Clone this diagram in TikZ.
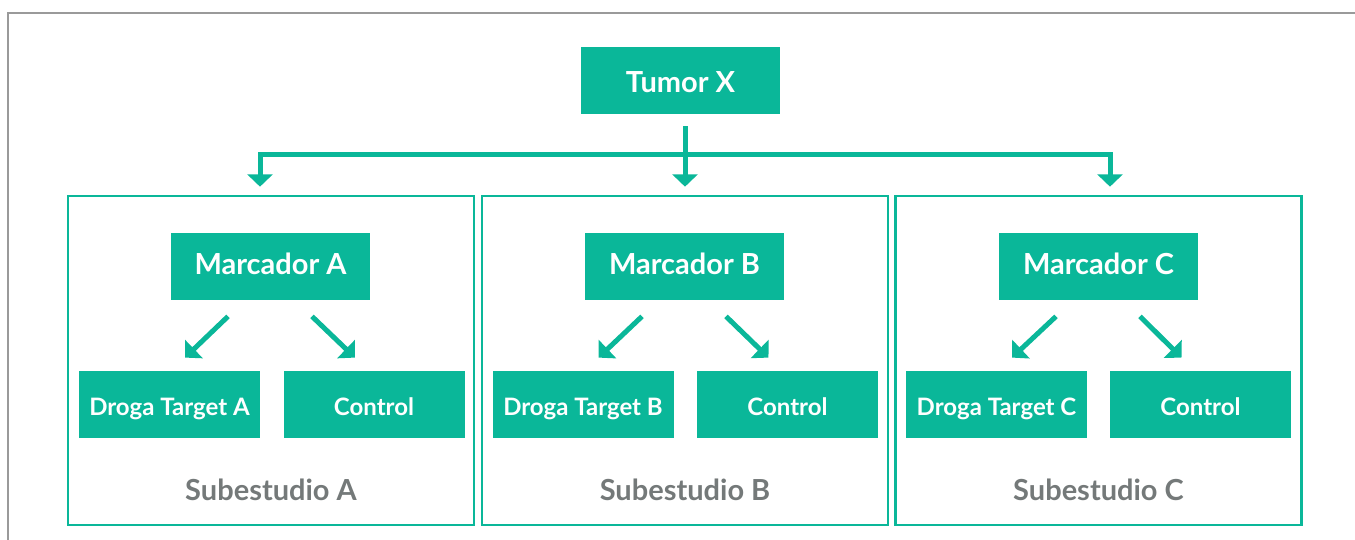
\documentclass[tikz,border=0pt]{standalone}
\usepackage{fontspec}
\setmainfont{Lato}
\usetikzlibrary{arrows.meta,calc}
\definecolor{verde}{HTML}{0AB799}
\definecolor{grisTexto}{HTML}{747979}
\definecolor{grisMarco}{HTML}{9A9A9A}

\begin{document}
\begin{tikzpicture}[x=0.5pt, y=-0.5pt,
		caja/.style={fill=verde, text=white, inner sep=0pt, minimum height=33.5pt, text depth=0pt},
		grande/.style={caja, minimum width=99.5pt, text height=7.8pt, font=\bfseries\fontsize{14.5}{16}\selectfont},
		chica/.style={caja, minimum width=90.5pt, text height=11.2pt, font=\bfseries\fontsize{12}{14}\selectfont},
		subestudio/.style={draw=verde, line width=1.3pt, minimum width=203pt, minimum height=164.5pt, inner sep=0pt},
		etiqueta/.style={text=grisTexto, font=\bfseries\fontsize{14.5}{16}\selectfont},
		linea/.style={draw=verde, line width=2.5pt, line join=miter},
		flecha/.style={linea, -{Triangle[width=12.5pt, length=6.2pt]}}]
	\useasboundingbox (0,0) rectangle (1355,540);

	% Frame
	\draw[grisMarco, line width=0.8pt] (1355,13) -- (8,13) -- (8,540);

	% Top node
	\node[grande, text height=11.6pt] (tumor) at (680.5,80.5) {Tumor X};

	% Substudy boxes
	\node[subestudio] (subA) at (271,360.5) {};
	\node[subestudio] (subB) at (685,360.5) {};
	\node[subestudio] (subC) at (1098.5,360.5) {};

	% Substudy A
	\node[grande] (marcA) at (270.5,266.5) {Marcador A};
	\node[chica] (drogaA) at (169.5,404.5) {Droga Target A};
	\node[chica] (controlA) at (374,404.5) {Control};
	\node[etiqueta] (etqA) at (271,490) {Subestudio A};

	% Substudy B
	\node[grande] (marcB) at (684.5,266.5) {Marcador B};
	\node[chica] (drogaB) at (583,404.5) {Droga Target B};
	\node[chica] (controlB) at (787.5,404.5) {Control};
	\node[etiqueta] (etqB) at (685,490) {Subestudio B};

	% Substudy C
	\node[grande] (marcC) at (1098.5,266.5) {Marcador C};
	\node[chica] (drogaC) at (996.5,404.5) {Droga Target C};
	\node[chica] (controlC) at (1200.5,404.5) {Control};
	\node[etiqueta] (etqC) at (1098.5,490) {Subestudio C};

	% Branches from the tumor
	\coordinate (rama) at (685,155);
	\draw[linea] ($(tumor.south)+(4.5,12)$) -- (rama);
	\draw[flecha] (rama) -- ($(subB.north)+(0,-8)$);
	\draw[flecha] (rama) -| ($(subA.north)+(-11,-8)$);
	\draw[flecha] (rama) -| ($(subC.north)+(11.5,-8)$);

	% Arrows inside the substudies
	\draw[flecha] ($(marcA.south)+(-42.5,16)$) -- ($(drogaA.north)+(15.5,-13)$);
	\draw[flecha] ($(marcA.south)+(41.5,16)$) -- ($(controlA.north)+(-19,-13)$);
	\draw[flecha] ($(marcB.south)+(-42.5,16)$) -- ($(drogaB.north)+(15.5,-13)$);
	\draw[flecha] ($(marcB.south)+(41.5,16)$) -- ($(controlB.north)+(-19,-13)$);
	\draw[flecha] ($(marcC.south)+(-42.5,16)$) -- ($(drogaC.north)+(15.5,-13)$);
	\draw[flecha] ($(marcC.south)+(41.5,16)$) -- ($(controlC.north)+(-19,-13)$);
\end{tikzpicture}
\end{document}
